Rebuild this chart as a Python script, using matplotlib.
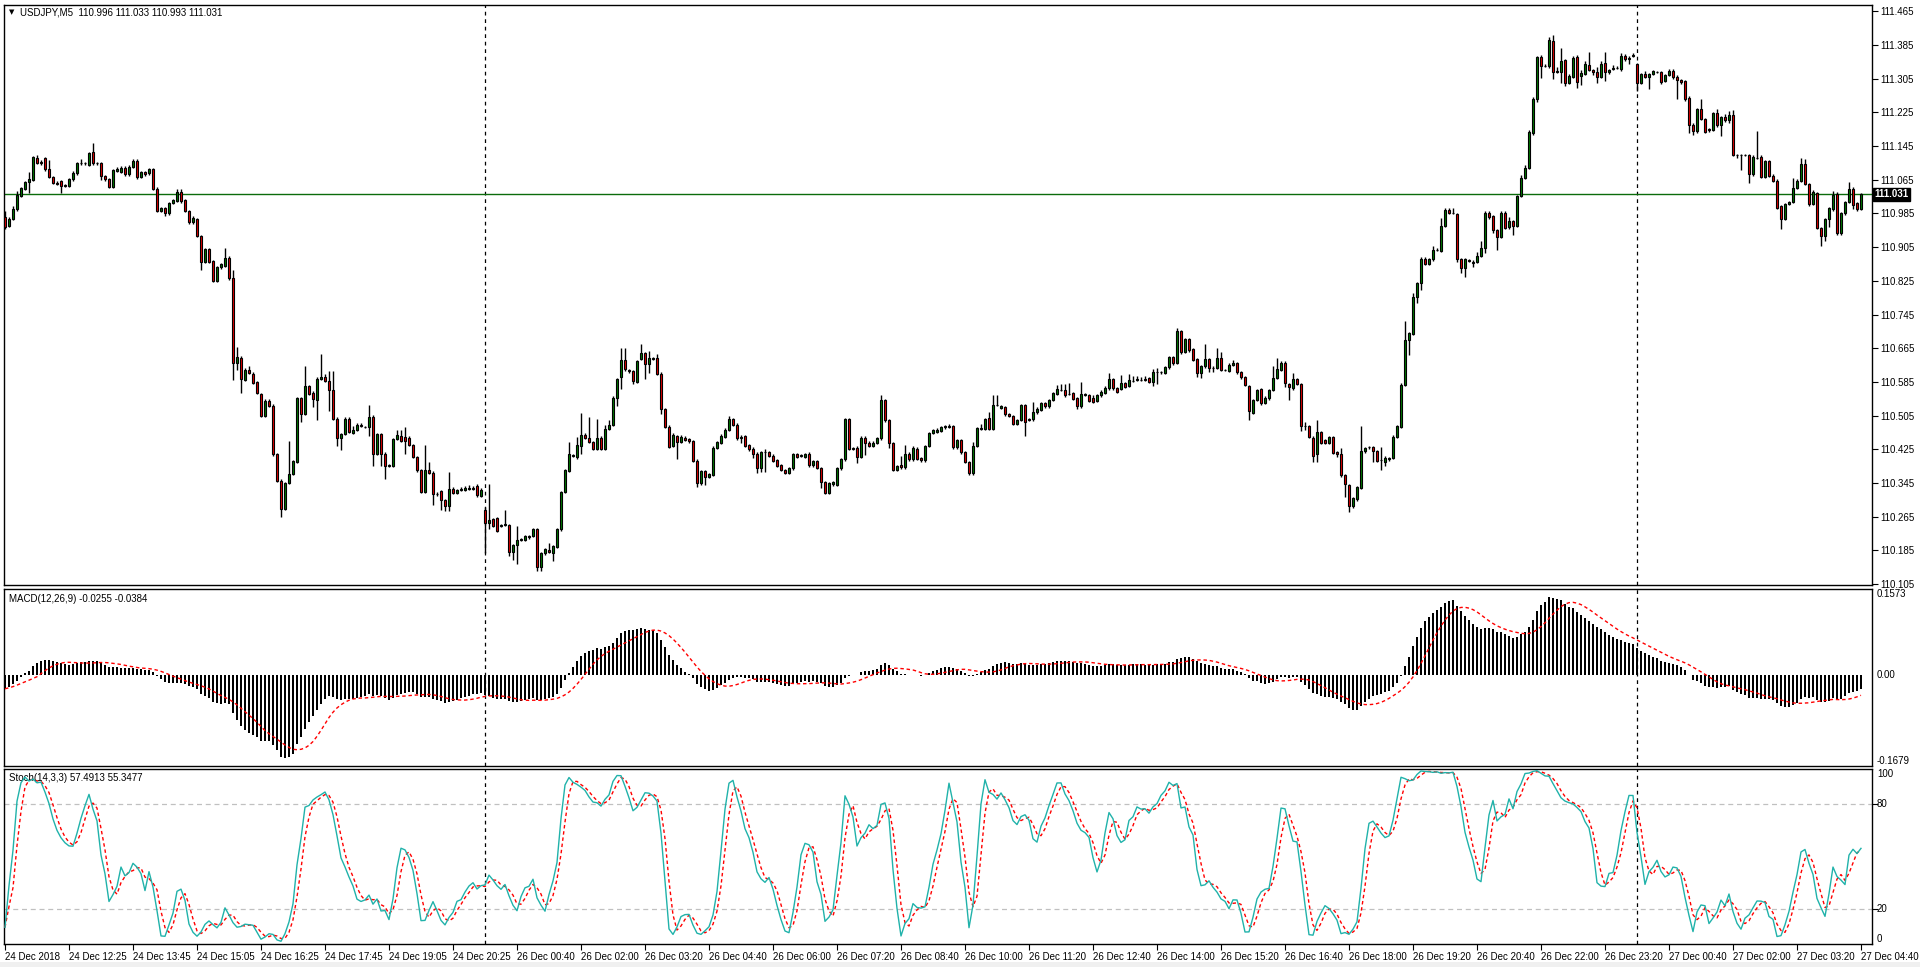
import numpy as np
import pandas as pd
import matplotlib.pyplot as plt
from matplotlib.patches import Rectangle

plt.rcParams['font.family'] = ['Liberation Sans', 'DejaVu Sans']

# prices are stored in points above 110.000 (1 point = 0.001), one entry per M5 bar
open_pts = [
    976, 955, 973, 995, 1027, 1044, 1060, 1064, 1117, 1108,
    1117, 1090, 1072, 1058, 1062, 1050, 1050, 1066, 1080, 1104,
    1105, 1101, 1131, 1104, 1104, 1074, 1066, 1048, 1086, 1084,
    1094, 1078, 1096, 1109, 1072, 1084, 1080, 1090, 1044, 991,
    997, 985, 1010, 1015, 1036, 1017, 991, 964, 971, 931,
    870, 900, 872, 825, 857, 860, 880, 831, 631, 643,
    590, 614, 605, 585, 557, 504, 541, 529, 413, 351,
    284, 345, 366, 395, 547, 510, 575, 560, 542, 593,
    598, 587, 567, 498, 453, 462, 498, 465, 471, 484,
    478, 477, 503, 415, 461, 415, 385, 385, 450, 457,
    454, 453, 435, 407, 375, 324, 376, 370, 318, 325,
    305, 290, 332, 321, 328, 329, 332, 331, 337, 315,
    282, 250, 260, 261, 243, 246, 245, 182, 197, 211,
    211, 219, 219, 235, 146, 178, 187, 180, 194, 235,
    324, 374, 409, 406, 433, 460, 453, 443, 427, 453,
    427, 473, 484, 548, 597, 638, 614, 610, 585, 639,
    653, 627, 641, 643, 605, 520, 479, 433, 457, 443,
    453, 449, 444, 398, 345, 373, 360, 364, 429, 441,
    455, 472, 496, 484, 451, 456, 435, 427, 415, 380,
    419, 418, 410, 399, 388, 376, 370, 380, 413, 409,
    407, 415, 387, 397, 381, 348, 322, 342, 340, 380,
    401, 497, 427, 429, 407, 453, 441, 433, 441, 451,
    542, 494, 439, 376, 389, 382, 415, 401, 427, 405,
    399, 433, 464, 467, 469, 477, 478, 480, 430, 447,
    418, 394, 368, 433, 473, 473, 499, 473, 530, 524,
    525, 508, 504, 485, 495, 530, 496, 496, 513, 519,
    534, 527, 542, 557, 566, 566, 557, 558, 546, 527,
    555, 553, 548, 540, 553, 560, 570, 592, 570, 568,
    582, 576, 588, 591, 590, 591, 594, 586, 608, 608,
    607, 620, 644, 631, 706, 657, 687, 663, 639, 606,
    622, 639, 619, 618, 641, 614, 612, 626, 629, 608,
    596, 576, 512, 542, 568, 536, 546, 566, 594, 614,
    631, 580, 570, 592, 580, 481, 481, 453, 413, 466,
    447, 441, 454, 418, 413, 364, 340, 291, 306, 333,
    420, 430, 431, 420, 400, 396, 401, 405, 454, 479,
    578, 685, 700, 787, 819, 878, 866, 876, 899, 897,
    955, 994, 986, 984, 876, 856, 874, 867, 871, 884,
    902, 987, 978, 945, 929, 987, 954, 967, 955, 1026,
    1069, 1094, 1176, 1256, 1357, 1336, 1335, 1394, 1322, 1320,
    1349, 1295, 1310, 1357, 1311, 1316, 1338, 1326, 1321, 1310,
    1343, 1322, 1329, 1331, 1329, 1359, 1351, 1360, 1340, 1296,
    1316, 1310, 1316, 1321, 1321, 1300, 1314, 1324, 1310, 1302,
    1300, 1260, 1196, 1180, 1232, 1209, 1186, 1184, 1224, 1194,
    1214, 1206, 1219, 1124, 1124, 1124, 1124, 1078, 1117, 1120,
    1072, 1110, 1075, 1063, 1003, 973, 1008, 1012, 1045, 1063,
    1102, 1055, 1008, 1033, 951, 932, 972, 995, 1031, 938,
    985, 1012, 1044, 1010, 996,
]
close_pts = [
    953, 973, 995, 1030, 1046, 1060, 1066, 1118, 1106, 1104,
    1090, 1072, 1058, 1056, 1051, 1052, 1066, 1082, 1104, 1105,
    1104, 1129, 1104, 1104, 1074, 1066, 1048, 1088, 1090, 1092,
    1078, 1096, 1109, 1071, 1084, 1078, 1090, 1044, 991, 997,
    985, 1009, 1017, 1035, 1014, 991, 964, 975, 932, 870,
    900, 870, 825, 858, 865, 880, 831, 631, 644, 593,
    614, 607, 583, 559, 504, 541, 529, 413, 350, 284,
    345, 366, 397, 547, 510, 575, 557, 544, 593, 597,
    587, 567, 498, 453, 462, 498, 466, 472, 484, 480,
    478, 503, 415, 461, 415, 385, 387, 450, 458, 446,
    445, 435, 407, 375, 324, 375, 370, 318, 320, 305,
    290, 332, 321, 328, 332, 334, 332, 334, 316, 328,
    250, 258, 243, 231, 246, 249, 182, 197, 211, 212,
    219, 216, 235, 146, 178, 189, 182, 195, 235, 324,
    376, 413, 411, 435, 460, 453, 443, 427, 453, 427,
    473, 484, 548, 591, 638, 615, 610, 587, 635, 653,
    627, 641, 641, 605, 520, 479, 431, 460, 443, 455,
    448, 444, 398, 345, 373, 360, 366, 429, 443, 456,
    472, 496, 484, 451, 455, 433, 425, 415, 380, 419,
    419, 410, 398, 386, 377, 370, 380, 413, 407, 411,
    413, 387, 397, 381, 348, 322, 345, 348, 380, 401,
    497, 427, 427, 407, 453, 441, 433, 441, 451, 542,
    494, 439, 377, 386, 382, 415, 401, 429, 403, 399,
    433, 464, 471, 472, 477, 480, 480, 430, 447, 418,
    396, 368, 433, 475, 476, 497, 473, 530, 530, 527,
    508, 504, 485, 495, 530, 491, 496, 513, 521, 534,
    527, 542, 558, 568, 566, 553, 557, 545, 527, 556,
    555, 541, 538, 553, 561, 570, 592, 570, 562, 582,
    574, 590, 588, 591, 590, 591, 586, 608, 608, 608,
    620, 644, 631, 706, 655, 687, 660, 637, 606, 622,
    639, 618, 619, 641, 614, 614, 626, 631, 608, 596,
    578, 515, 542, 566, 534, 548, 566, 594, 615, 631,
    582, 572, 592, 580, 481, 481, 454, 410, 466, 441,
    441, 454, 417, 413, 363, 342, 291, 309, 335, 421,
    428, 430, 420, 398, 400, 404, 404, 455, 481, 578,
    685, 701, 787, 819, 878, 866, 876, 899, 899, 955,
    994, 986, 986, 876, 856, 876, 873, 871, 884, 904,
    987, 976, 945, 929, 987, 951, 967, 955, 1026, 1069,
    1094, 1178, 1258, 1357, 1336, 1336, 1397, 1320, 1322, 1347,
    1295, 1312, 1355, 1297, 1318, 1340, 1326, 1321, 1310, 1340,
    1320, 1326, 1329, 1331, 1359, 1351, 1355, 1360, 1296, 1316,
    1310, 1316, 1323, 1321, 1298, 1314, 1324, 1310, 1302, 1298,
    1256, 1196, 1180, 1232, 1209, 1178, 1184, 1224, 1194, 1214,
    1206, 1219, 1125, 1124, 1124, 1124, 1078, 1120, 1117, 1072,
    1110, 1075, 1063, 999, 973, 1008, 1012, 1045, 1063, 1102,
    1055, 1008, 1035, 951, 932, 972, 998, 1028, 938, 985,
    1012, 1044, 1006, 995, 1031,
]
wick_up = [
    15, 3, 8, 8, 3, 3, 18, 3, 6, 3,
    3, 22, 3, 3, 3, 3, 3, 3, 3, 10,
    3, 3, 21, 3, 3, 3, 3, 3, 5, 5,
    3, 3, 5, 5, 3, 3, 3, 3, 3, 3,
    3, 3, 3, 8, 6, 3, 3, 5, 3, 3,
    3, 3, 3, 3, 3, 24, 3, 20, 25, 3,
    5, 8, 3, 3, 3, 3, 3, 3, 3, 3,
    3, 80, 3, 3, 3, 47, 3, 3, 3, 55,
    5, 25, 45, 3, 3, 3, 3, 8, 3, 3,
    3, 28, 3, 3, 3, 3, 3, 3, 14, 15,
    25, 3, 3, 3, 3, 60, 20, 3, 3, 3,
    3, 40, 3, 3, 3, 3, 8, 3, 5, 5,
    5, 85, 3, 3, 3, 33, 3, 3, 32, 3,
    3, 3, 3, 3, 3, 3, 15, 3, 3, 3,
    3, 30, 3, 20, 52, 3, 50, 3, 44, 3,
    10, 10, 3, 3, 28, 28, 3, 3, 3, 22,
    3, 18, 3, 8, 3, 3, 3, 3, 3, 3,
    3, 3, 3, 3, 3, 3, 3, 3, 3, 5,
    3, 8, 3, 3, 3, 3, 3, 3, 3, 3,
    8, 3, 3, 3, 3, 3, 3, 3, 3, 3,
    3, 3, 3, 3, 3, 3, 3, 3, 3, 3,
    3, 3, 3, 3, 3, 3, 3, 3, 3, 13,
    3, 3, 3, 3, 20, 20, 3, 3, 3, 3,
    3, 3, 3, 3, 3, 3, 5, 3, 3, 3,
    3, 3, 10, 3, 10, 3, 15, 25, 25, 3,
    3, 3, 3, 3, 3, 3, 3, 25, 5, 3,
    3, 3, 3, 10, 15, 15, 25, 3, 3, 28,
    3, 3, 5, 3, 5, 5, 15, 3, 3, 20,
    3, 15, 12, 8, 8, 8, 3, 8, 10, 3,
    3, 3, 3, 7, 3, 3, 3, 3, 3, 3,
    35, 3, 3, 25, 15, 3, 3, 5, 3, 3,
    3, 3, 3, 3, 3, 3, 3, 30, 28, 3,
    3, 3, 15, 3, 3, 10, 3, 3, 28, 3,
    3, 3, 3, 3, 15, 3, 3, 3, 3, 60,
    3, 3, 3, 3, 30, 5, 3, 3, 3, 5,
    45, 3, 10, 3, 3, 3, 3, 10, 3, 20,
    5, 3, 12, 3, 3, 3, 3, 3, 10, 15,
    3, 3, 3, 3, 3, 5, 10, 3, 4, 8,
    5, 5, 3, 3, 5, 4, 7, 14, 10, 30,
    3, 3, 4, 4, 8, 7, 30, 3, 12, 6,
    25, 3, 8, 3, 6, 5, 3, 7, 3, 3,
    8, 3, 3, 3, 3, 3, 5, 3, 3, 3,
    3, 3, 3, 3, 25, 3, 3, 3, 10, 3,
    8, 10, 12, 3, 3, 3, 3, 3, 63, 3,
    3, 3, 3, 3, 3, 3, 3, 25, 3, 15,
    12, 3, 5, 3, 3, 3, 3, 10, 5, 3,
    3, 15, 3, 3, 2,
]
wick_dn = [
    4, 3, 3, 3, 3, 3, 26, 3, 3, 3,
    3, 3, 3, 3, 17, 3, 3, 3, 3, 3,
    3, 3, 3, 3, 9, 3, 3, 3, 3, 3,
    3, 3, 3, 3, 3, 3, 3, 3, 3, 3,
    5, 3, 3, 3, 3, 3, 3, 3, 3, 20,
    3, 3, 3, 3, 3, 3, 3, 42, 18, 35,
    3, 3, 3, 3, 3, 3, 3, 3, 3, 20,
    3, 3, 3, 3, 20, 3, 3, 18, 48, 3,
    3, 50, 3, 20, 30, 3, 3, 3, 3, 3,
    3, 20, 30, 3, 30, 30, 3, 3, 3, 3,
    30, 3, 3, 3, 3, 3, 3, 25, 3, 25,
    12, 12, 3, 3, 3, 3, 3, 3, 3, 3,
    70, 15, 3, 3, 3, 3, 10, 20, 44, 3,
    3, 3, 3, 10, 10, 3, 3, 20, 3, 3,
    3, 3, 3, 3, 20, 3, 3, 3, 3, 3,
    3, 3, 3, 20, 28, 3, 3, 7, 3, 3,
    36, 20, 3, 3, 10, 3, 3, 3, 40, 3,
    3, 3, 3, 10, 5, 20, 3, 3, 3, 3,
    3, 3, 3, 3, 10, 3, 3, 10, 12, 8,
    48, 3, 3, 3, 3, 3, 3, 3, 3, 3,
    3, 3, 3, 3, 15, 3, 3, 3, 3, 3,
    3, 3, 3, 15, 3, 30, 3, 3, 3, 3,
    3, 10, 3, 3, 3, 3, 3, 3, 3, 3,
    3, 3, 3, 3, 3, 3, 3, 3, 3, 3,
    3, 3, 3, 3, 3, 3, 3, 3, 3, 3,
    3, 3, 3, 3, 3, 35, 3, 3, 3, 3,
    3, 3, 3, 3, 3, 3, 3, 3, 5, 3,
    3, 3, 3, 3, 3, 3, 3, 3, 3, 3,
    3, 3, 3, 3, 3, 3, 3, 10, 28, 3,
    3, 3, 5, 3, 3, 3, 5, 3, 10, 12,
    3, 10, 10, 3, 3, 3, 3, 3, 3, 3,
    3, 20, 3, 3, 3, 3, 3, 3, 3, 3,
    10, 30, 3, 3, 13, 10, 3, 15, 18, 3,
    3, 3, 3, 5, 3, 30, 15, 5, 3, 3,
    3, 3, 25, 3, 25, 10, 3, 3, 3, 3,
    3, 36, 3, 15, 15, 3, 3, 3, 3, 3,
    3, 3, 3, 7, 12, 22, 3, 10, 3, 3,
    10, 3, 7, 30, 3, 3, 5, 20, 3, 3,
    3, 3, 4, 7, 30, 3, 5, 15, 3, 25,
    8, 3, 3, 15, 22, 3, 3, 8, 15, 3,
    20, 5, 3, 3, 5, 3, 12, 3, 20, 3,
    3, 30, 3, 3, 5, 3, 3, 5, 45, 5,
    3, 20, 8, 3, 3, 3, 5, 3, 3, 25,
    3, 5, 3, 8, 35, 3, 20, 3, 3, 3,
    3, 3, 3, 3, 25, 3, 3, 3, 3, 3,
    3, 5, 3, 3, 25, 12, 20, 3, 3, 3,
    3, 3, 10, 5, 3,
]

time_labels = [
    '24 Dec 2018', '24 Dec 12:25', '24 Dec 13:45', '24 Dec 15:05', '24 Dec 16:25',
    '24 Dec 17:45', '24 Dec 19:05', '24 Dec 20:25', '26 Dec 00:40', '26 Dec 02:00',
    '26 Dec 03:20', '26 Dec 04:40', '26 Dec 06:00', '26 Dec 07:20', '26 Dec 08:40',
    '26 Dec 10:00', '26 Dec 11:20', '26 Dec 12:40', '26 Dec 14:00', '26 Dec 15:20',
    '26 Dec 16:40', '26 Dec 18:00', '26 Dec 19:20', '26 Dec 20:40', '26 Dec 22:00',
    '26 Dec 23:20', '27 Dec 00:40', '27 Dec 02:00', '27 Dec 03:20', '27 Dec 04:40',
]
label_every = 16          # one time label per 16 bars
separator_bars = [120, 408]
price_ticks = [111.465, 111.385, 111.305, 111.225, 111.145, 111.065, 110.985, 110.905,
               110.825, 110.745, 110.665, 110.585, 110.505, 110.425, 110.345, 110.265,
               110.185, 110.105]
last_price = 111.031
macd_top, macd_bottom = 0.1573, -0.1679
macd_start = -0.026       # MACD value at the first visible bar
stoch_levels = [20, 80]

# ---------------- derived series ----------------
o = 110 + np.array(open_pts) / 1000
c = 110 + np.array(close_pts) / 1000
hi = np.maximum(o, c) + np.array(wick_up) / 1000
lo = np.minimum(o, c) - np.array(wick_dn) / 1000
n = len(c)
x = np.arange(n)

# MACD(12,26,9) as MT4 computes it (signal = SMA of MACD)
a12, a26 = 2 / 13, 2 / 27
e12, e26 = c[0], c[0] - macd_start
macd = np.zeros(n)
for i in range(n):
    if i > 0:
        e12 += a12 * (c[i] - e12)
        e26 += a26 * (c[i] - e26)
    macd[i] = e12 - e26
signal = pd.Series(macd).rolling(9, min_periods=1).mean().values

# Stochastic(14,3,3)
cs = pd.Series(c)
ll = pd.Series(lo).rolling(14, min_periods=1).min()
hh = pd.Series(hi).rolling(14, min_periods=1).max()
k = 100 * (cs - ll).rolling(3, min_periods=1).sum() / (hh - ll).rolling(3, min_periods=1).sum()
d = k.rolling(3, min_periods=1).mean()

# ---------------- figure ----------------
W, H = 1920, 967
fig = plt.figure(figsize=(W / 100, H / 100), dpi=100)
fig.patch.set_facecolor('white')
fig.patches.append(Rectangle((0, 0), 1, 5 / H, transform=fig.transFigure,
                             facecolor='#f0f0f0', edgecolor='none'))


def px_axes(top, bottom, left=4, right=1872):
    return fig.add_axes([left / W, 1 - bottom / H, (right - left) / W, (bottom - top) / H])


ax1 = px_axes(5, 585)
ax2 = px_axes(589, 766)
ax3 = px_axes(769, 944)

xmin, xmax = -0.25, 466.75
fs = 7

for ax in (ax1, ax2, ax3):
    ax.set_xlim(xmin, xmax)
    for s in ax.spines.values():
        s.set_color('black')
        s.set_linewidth(1)
    ax.yaxis.tick_right()
    ax.tick_params(axis='y', direction='out', length=4, width=0.8, pad=2,
                   labelsize=fs, colors='black')
    for b in separator_bars:
        ax.axvline(b, color='black', lw=0.9, ls=(0, (3, 3)), zorder=1)

# ---- main candlestick panel ----
ax1.set_ylim(110.103, 111.480)
ax1.set_yticks(price_ticks)
ax1.set_yticklabels(['%.3f' % p for p in price_ticks])
ax1.set_xticks([])
ax1.axhline(last_price, color='#0b6b0b', lw=1, zorder=2)
ax1.vlines(x, lo, hi, color='black', lw=1, zorder=3)
body_col = np.where(c >= o, '#007800', '#e00000')
body_h = np.maximum(np.abs(c - o), 0.0006)
body_b = np.minimum(o, c) - np.where(np.abs(c - o) < 0.0006, 0.0003, 0)
ax1.bar(x, body_h, bottom=body_b, width=0.62, color=body_col,
        edgecolor='black', linewidth=0.8, zorder=4)
ax1.text(1.0 + 2 / 1868, last_price, '111.031', transform=ax1.get_yaxis_transform(),
         ha='left', va='center', fontsize=fs, color='white', fontweight='bold',
         bbox=dict(boxstyle='square,pad=0.15', facecolor='black', edgecolor='black'))
fig.text(12 / W, 1 - 12.5 / H, '\u25bc', fontsize=5, ha='center', va='center',
         family=['DejaVu Sans'])
fig.text(20 / W, 1 - 12.5 / H, 'USDJPY,M5  110.996 111.033 110.993 111.031',
         fontsize=fs, ha='left', va='center')

# ---- MACD panel ----
ax2.set_ylim(macd_bottom, macd_top)
ax2.set_xticks([])
ax2.set_yticks([])
ax2.bar(x, macd, width=0.66, color='black', zorder=3)
ax2.plot(x, signal, color='red', lw=1, ls=(0, (2.5, 2)), zorder=4)
ytr = ax2.get_yaxis_transform()
ax2.text(1 + 5 / 1868, macd_top, '0.1573', transform=ytr, ha='left', va='top', fontsize=fs)
ax2.text(1 + 5 / 1868, 0, '0.00', transform=ytr, ha='left', va='center', fontsize=fs)
ax2.text(1 + 5 / 1868, macd_bottom, '-0.1679', transform=ytr, ha='left', va='bottom', fontsize=fs)
ax2.text(5 / 1868, 0.945, 'MACD(12,26,9) -0.0255 -0.0384', transform=ax2.transAxes,
         ha='left', va='center', fontsize=fs)

# ---- Stochastic panel ----
ax3.set_ylim(0, 100)
ax3.set_yticks(stoch_levels)
ax3.set_yticklabels([])
for lv in stoch_levels:
    ax3.axhline(lv, color='#c0c0c0', lw=0.9, ls=(0, (4, 3)), zorder=1)
ax3.plot(x, k, color='#20b2aa', lw=1, zorder=4)
ax3.plot(x, d, color='red', lw=1, ls=(0, (2.5, 2)), zorder=3)
ytr3 = ax3.get_yaxis_transform()
ax3.text(1 + 5 / 1868, 100, '100', transform=ytr3, ha='left', va='top', fontsize=fs)
ax3.text(1 + 5 / 1868, 80, '80', transform=ytr3, ha='left', va='center', fontsize=fs)
ax3.text(1 + 5 / 1868, 20, '20', transform=ytr3, ha='left', va='center', fontsize=fs)
ax3.text(1 + 5 / 1868, 0, '0', transform=ytr3, ha='left', va='bottom', fontsize=fs)
ax3.text(5 / 1868, 0.95, 'Stoch(14,3,3) 57.4913 55.3477', transform=ax3.transAxes,
         ha='left', va='center', fontsize=fs)

tick_pos = [i * label_every for i in range(len(time_labels))]
ax3.set_xticks(tick_pos)
ax3.set_xticklabels(time_labels, ha='left', fontsize=fs)
ax3.tick_params(axis='x', direction='out', length=4, width=0.8, pad=2, colors='black')
ax3.set_xlim(xmin, xmax)

fig.savefig('out.png', dpi=100, facecolor='white')
